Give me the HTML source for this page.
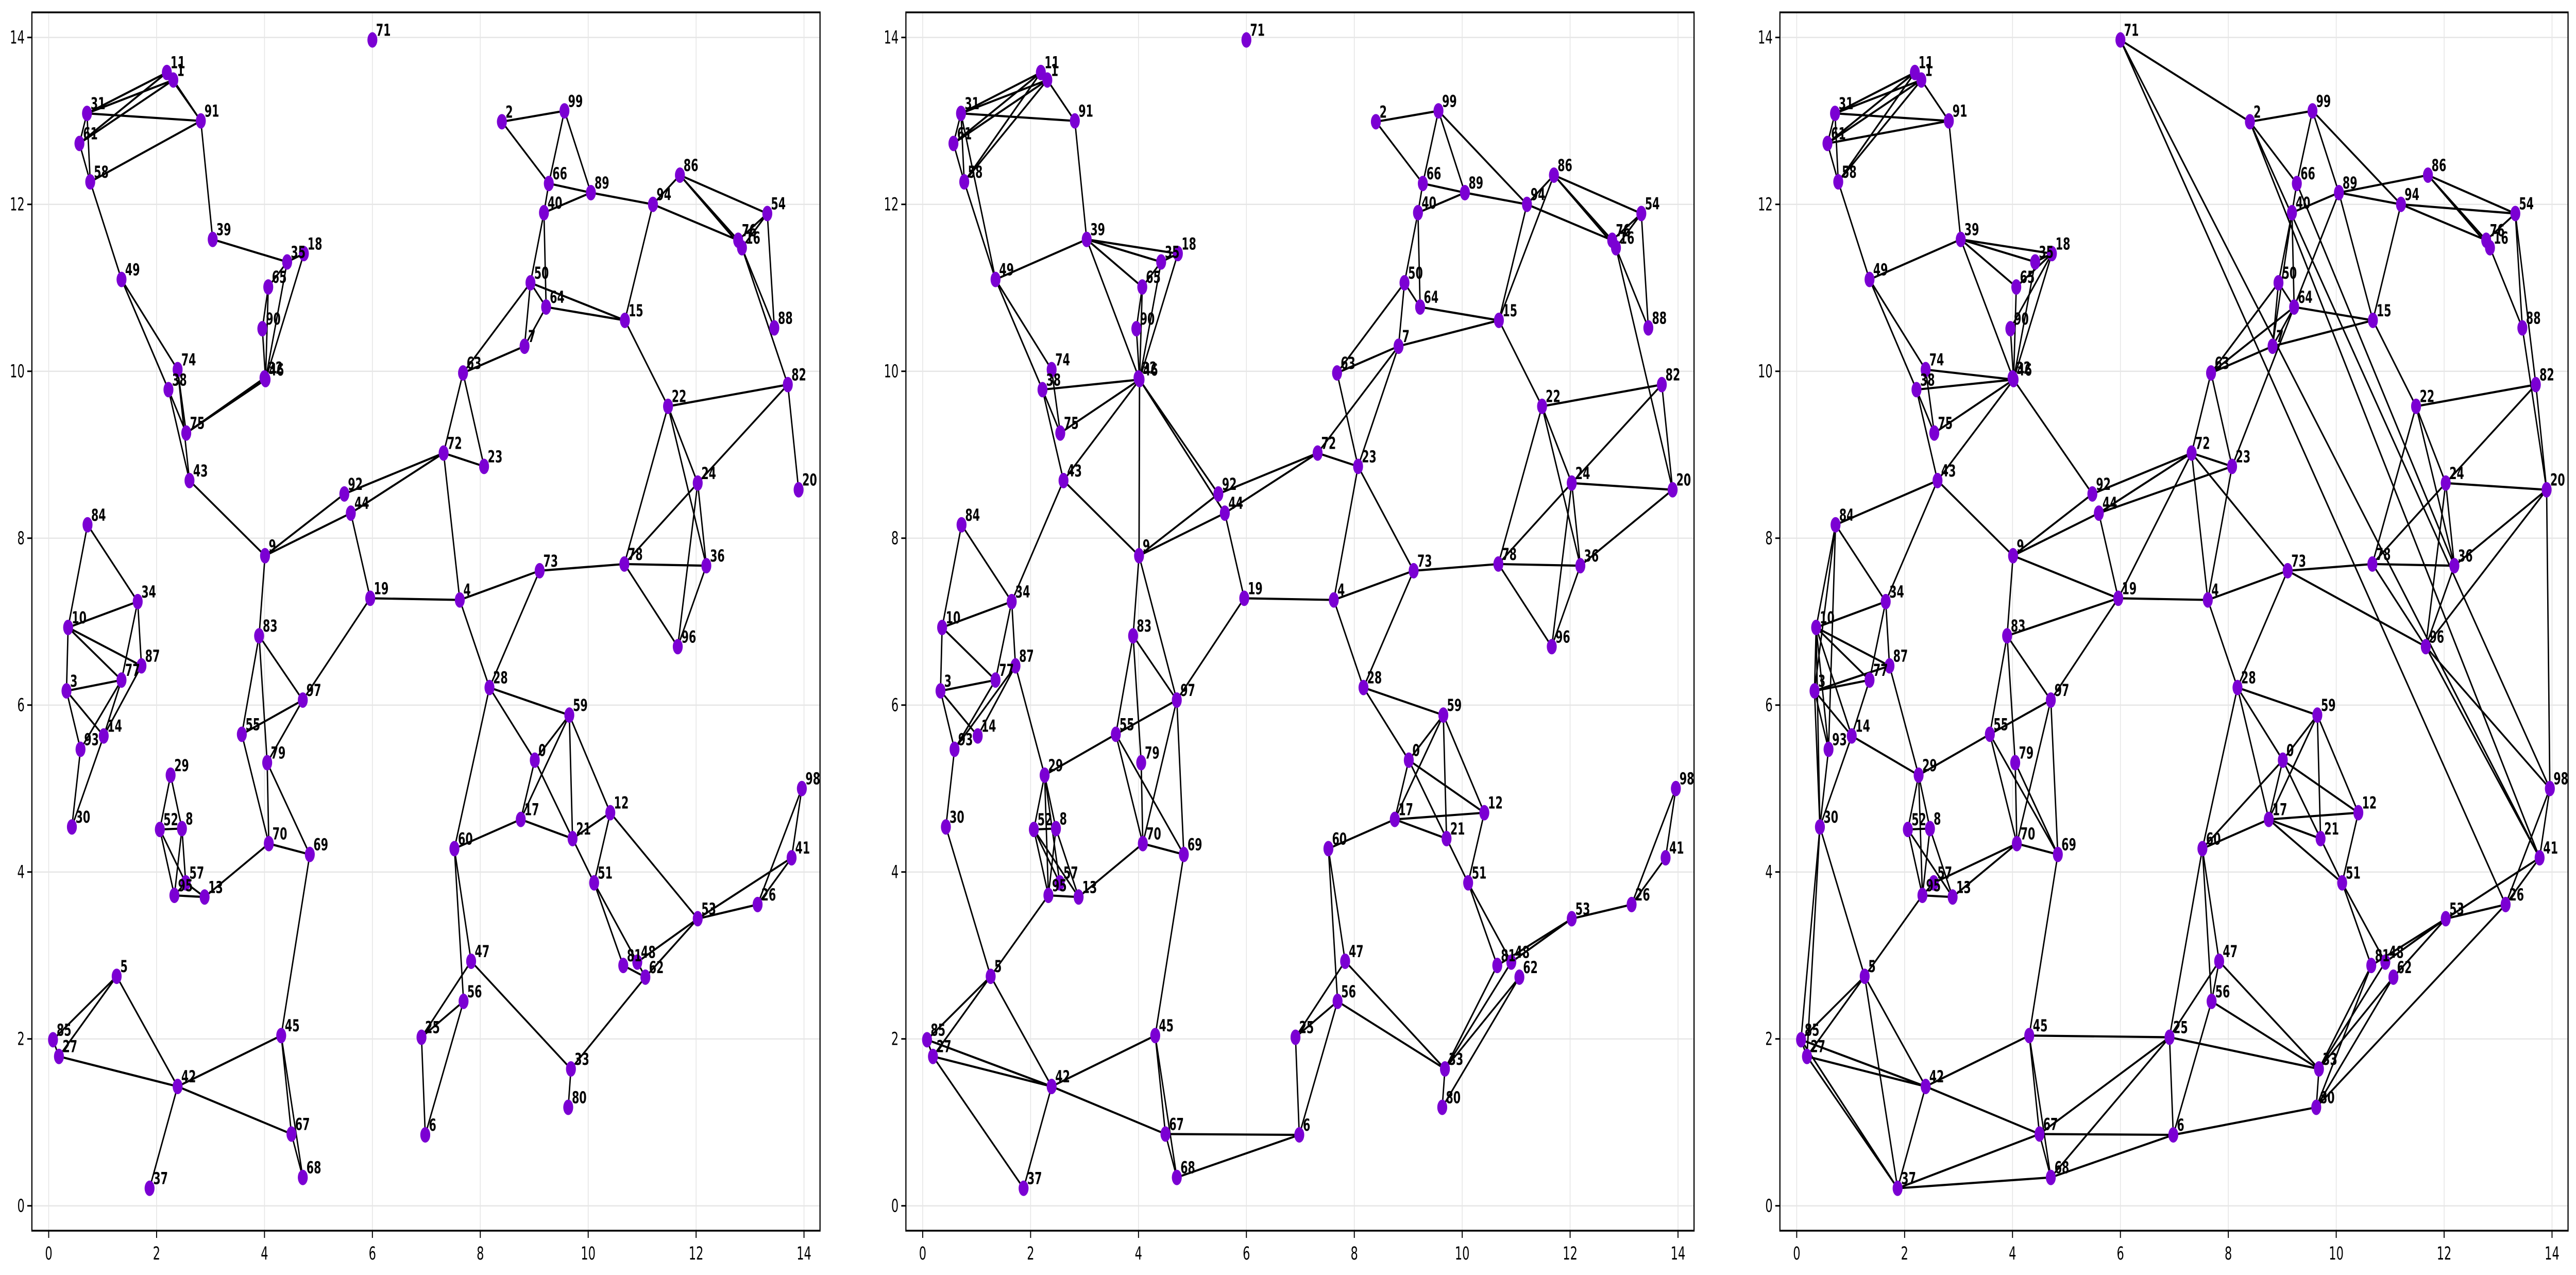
<!DOCTYPE html>
<html><head><meta charset="utf-8"><title>Graph panels</title>
<style>html,body{margin:0;padding:0;background:#fff;overflow:hidden;width:100%;height:100%}svg{display:block;width:100vw;height:100vh}</style></head>
<body>
<svg id="chart" xmlns="http://www.w3.org/2000/svg" viewBox="0 0 7778 2475" preserveAspectRatio="none"></svg>
<script>
const nodeIds=[71,11,1,31,91,61,58,39,35,18,65,90,32,46,49,74,38,75,43,84,34,10,87,77,3,14,93,30,29,52,8,57,95,13,83,97,55,79,70,69,9,92,44,19,72,23,63,4,73,50,64,7,15,40,66,2,99,89,94,86,54,76,16,88,82,20,22,24,78,36,96,28,59,0,17,21,12,60,51,53,26,41,98,81,48,62,47,56,25,6,33,80,5,85,27,42,37,45,67,68];
const nodeX=[6.00,2.19,2.31,0.71,2.82,0.57,0.77,3.04,4.42,4.73,4.07,3.96,4.00,4.02,1.35,2.39,2.22,2.55,2.61,0.72,1.65,0.36,1.72,1.35,0.33,1.02,0.59,0.43,2.26,2.06,2.47,2.54,2.33,2.89,3.90,4.71,3.58,4.05,4.08,4.84,4.01,5.48,5.60,5.96,7.32,8.07,7.68,7.62,9.10,8.93,9.22,8.82,10.68,9.18,9.27,8.40,9.56,10.05,11.20,11.70,13.32,12.78,12.85,13.45,13.70,13.90,11.48,12.03,10.67,12.19,11.66,8.17,9.65,9.01,8.75,9.71,10.41,7.52,10.11,12.03,13.14,13.77,13.96,10.65,10.91,11.06,7.83,7.69,6.91,6.98,9.68,9.63,1.26,0.08,0.19,2.39,1.87,4.31,4.50,4.71];
const nodeY=[13.97,13.58,13.49,13.09,13.00,12.73,12.27,11.58,11.31,11.41,11.01,10.51,9.92,9.90,11.10,10.02,9.78,9.26,8.69,8.16,7.24,6.93,6.47,6.30,6.17,5.63,5.47,4.54,5.16,4.51,4.52,3.87,3.72,3.70,6.83,6.06,5.65,5.31,4.34,4.21,7.79,8.53,8.30,7.28,9.02,8.86,9.98,7.26,7.61,11.06,10.77,10.30,10.61,11.90,12.25,12.99,13.12,12.14,12.00,12.35,11.89,11.57,11.48,10.52,9.84,8.58,9.58,8.66,7.69,7.67,6.70,6.21,5.88,5.34,4.63,4.40,4.71,4.28,3.87,3.44,3.61,4.17,5.00,2.88,2.92,2.74,2.93,2.45,2.02,0.85,1.64,1.18,2.75,1.99,1.79,1.43,0.21,2.04,0.86,0.34];
const edgesA="11-1 11-31 1-31 11-61 1-61 31-91 1-91 11-91 31-61 61-58 31-58 58-91 58-49 91-39 39-35 35-18 35-65 18-46 35-46 65-90 90-46 65-46 49-74 49-38 74-75 38-75 38-43 74-43 75-46 75-32 43-9 9-83 9-92 9-44 92-72 44-72 44-19 19-97 72-23 72-63 63-23 72-4 63-50 63-7 7-64 50-64 50-7 50-40 64-40 40-66 50-15 64-15 66-2 66-99 2-99 99-89 66-89 40-89 89-94 94-86 94-15 94-76 86-54 86-16 86-76 54-76 54-16 54-88 16-88 16-82 82-22 82-24 82-20 15-22 22-78 22-24 22-36 24-36 24-78 24-96 78-36 78-96 96-36 78-73 73-4 73-28 4-19 4-28 28-59 28-0 28-60 0-21 0-17 0-59 59-17 59-21 59-12 17-21 17-60 21-12 21-51 12-51 12-53 51-81 51-48 81-62 48-62 53-62 53-48 53-26 53-41 26-98 26-41 41-98 60-47 60-56 47-25 47-33 56-25 56-6 25-6 33-80 33-62 84-10 84-34 34-10 34-77 34-87 10-3 10-77 10-87 3-77 3-93 3-14 77-14 77-93 87-14 14-30 93-30 29-52 29-8 52-8 52-95 52-57 8-57 8-95 95-57 95-13 57-13 13-70 83-97 83-55 83-79 55-97 55-70 97-79 79-70 79-69 70-69 69-45 45-42 45-67 45-68 67-68 42-5 42-27 42-67 42-37 5-85 5-27 85-27";
const edgesB="11-1 11-31 1-31 11-61 1-61 11-58 1-58 31-61 31-58 61-58 31-91 1-91 58-49 31-49 91-39 49-39 49-74 49-38 74-75 38-75 38-43 38-46 75-46 43-46 43-9 43-34 39-46 39-65 39-18 39-35 35-18 35-65 18-46 65-90 65-46 90-46 35-46 46-9 46-92 46-44 9-92 9-44 9-83 9-97 92-72 44-72 44-19 19-97 72-23 72-7 63-23 63-7 7-23 63-50 50-64 50-7 50-40 64-40 7-15 64-15 40-66 40-89 66-89 66-2 66-99 2-99 99-89 99-94 89-94 94-86 94-15 86-15 94-76 86-76 86-16 86-54 54-76 54-16 54-88 16-88 16-20 82-20 82-22 82-24 15-22 22-78 22-36 22-24 24-20 24-36 24-78 24-96 78-36 78-96 96-36 36-20 78-73 73-4 73-23 73-28 4-23 4-19 4-28 28-59 28-0 0-59 0-17 0-21 0-12 59-17 59-21 59-12 17-21 17-12 17-60 21-51 12-51 51-81 51-48 81-33 48-33 62-33 62-80 81-53 48-53 53-26 26-98 26-41 41-98 60-47 60-56 47-25 47-33 56-25 56-33 56-6 25-6 6-67 6-68 33-80 84-10 84-34 34-10 34-77 34-87 10-3 10-77 3-77 3-93 3-14 77-93 87-93 87-14 93-30 30-5 87-29 29-55 29-52 29-8 29-95 29-57 52-8 52-95 52-13 52-57 8-95 8-13 95-13 95-5 13-70 83-55 83-79 83-97 55-97 55-70 55-69 79-70 97-70 97-69 70-69 69-45 45-42 45-67 45-68 67-68 42-5 42-27 42-85 42-67 42-37 27-37 5-85 5-27 85-27";
const edgesC="11-1 11-31 1-31 11-61 1-61 11-58 1-58 31-61 31-58 61-58 31-91 61-91 1-91 58-49 91-39 49-39 49-74 49-38 74-46 38-46 74-75 38-75 38-43 75-46 43-46 43-9 43-84 43-34 39-46 39-65 39-35 39-18 35-18 65-18 90-18 65-46 90-46 35-46 18-46 46-92 9-92 9-44 9-19 9-83 92-72 44-72 44-23 44-19 19-72 19-97 19-83 19-4 72-23 72-73 72-4 63-23 63-72 63-7 63-50 63-64 7-15 7-40 7-64 50-40 50-64 50-7 64-40 64-15 64-89 23-64 23-4 71-2 71-26 71-41 2-41 2-98 66-36 66-2 66-99 2-99 66-40 40-89 99-89 99-94 89-94 89-86 89-15 94-54 94-15 94-76 86-76 86-16 86-54 54-76 54-88 54-82 16-88 88-20 82-20 82-22 82-24 15-22 22-78 22-36 22-24 24-20 24-36 24-78 24-96 78-36 78-96 36-20 96-20 96-73 96-98 96-41 96-36 73-78 73-4 73-28 4-28 28-59 28-0 28-17 28-60 0-59 0-17 0-12 0-21 0-60 59-17 59-21 59-12 17-21 17-12 17-51 17-60 21-51 12-51 51-81 51-48 81-33 81-80 48-33 62-33 62-80 81-53 48-53 53-62 53-26 53-41 26-41 26-80 26-98 41-98 98-20 60-25 60-47 60-56 47-56 47-25 47-33 56-6 56-33 25-33 25-6 25-45 25-67 25-68 6-67 6-68 6-80 33-80 37-68 37-67 37-27 37-85 37-5 37-42 42-27 42-85 42-5 42-45 42-67 45-67 45-68 67-68 5-85 5-27 5-95 5-30 85-30 27-30 85-27 30-10 30-3 30-93 30-14 84-10 84-3 84-93 84-34 10-34 10-77 10-87 10-3 10-93 10-14 3-77 3-87 3-93 3-14 34-77 34-87 77-14 14-29 87-29 29-55 29-52 29-8 29-95 52-8 52-95 52-13 8-95 8-13 95-13 95-57 13-70 57-70 83-55 83-79 83-97 55-97 55-70 55-69 79-70 79-69 97-70 97-69 70-69 69-45";
const panelEdges=[edgesA,edgesB,edgesC];
const tickVals=[0,2,4,6,8,10,12,14];
const tickLabels=["0","2","4","6","8","10","12","14"];

const NS="http://www.w3.org/2000/svg";
const svg=document.getElementById('chart');
const UX=162.9, UY=162.0, Y0=2340.7, PSTEP=2639;
function mk(tag,attrs,parent){const e=document.createElementNS(NS,tag);for(const k in attrs)e.setAttribute(k,attrs[k]);parent.appendChild(e);return e;}
const idx={};nodeIds.forEach((id,i)=>idx[id]=i);

for(let p=0;p<3;p++){
  const X0=147+PSTEP*p;
  const sx=v=>X0+UX*v, sy=v=>Y0-UY*v;
  const g=mk('g',{},svg);
  
  
  const L=X0-50.7,R=X0+2329,T=24,B=2389;
  const grid=mk('g',{stroke:'#e6e6e6','stroke-width':'2.5'},g);
  
  
  tickVals.forEach(v=>{
    mk('line',{x1:sx(v),x2:sx(v),y1:T,y2:B},grid);
    mk('line',{x1:L,x2:R,y1:sy(v),y2:sy(v)},grid);
  });
  const eg=mk('g',{stroke:'#000','stroke-width':'4.2','stroke-linecap':'round'},g);
  
  
  panelEdges[p].split(' ').forEach(s=>{
    const [a,b]=s.split('-').map(Number);
    if(idx[a]===undefined||idx[b]===undefined)return;
    const l=mk('line',{x1:sx(nodeX[idx[a]]),y1:sy(nodeY[idx[a]]),x2:sx(nodeX[idx[b]]),y2:sy(nodeY[idx[b]])},eg);
    
    
  });
  const ng=mk('g',{fill:'#7b00d3'},g);
  
  
  nodeIds.forEach((id,i)=>{
    const c=mk('circle',{cx:sx(nodeX[i]),cy:sy(nodeY[i]),r:15},ng);
    
    
  });
  const lg=mk('g',{fill:'#000','font-family':'DejaVu Sans, Liberation Sans, sans-serif','font-size':'32','font-weight':'bold'},g);
  
  
  nodeIds.forEach((id,i)=>{
    const t=mk('text',{x:sx(nodeX[i])+11,y:sy(nodeY[i])-8},lg);
    t.textContent=String(id);
    
    
  });
  const fr=mk('rect',{x:L,y:T,width:R-L,height:B-T,fill:'none',stroke:'#000','stroke-width':'3.5'},g);
  
  
  const tg=mk('g',{fill:'#000','font-family':'DejaVu Sans, Liberation Sans, sans-serif','font-size':'35'},g);
  
  
  tickVals.forEach((v,i)=>{
    mk('line',{x1:sx(v),x2:sx(v),y1:B,y2:B+14,stroke:'#000','stroke-width':'3'},tg);
    const tx=mk('text',{x:sx(v),y:B+56,'text-anchor':'middle'},tg);
    tx.textContent=tickLabels[i];
    
    
    mk('line',{x1:L-14,x2:L,y1:sy(v),y2:sy(v),stroke:'#000','stroke-width':'3'},tg);
    const ty=mk('text',{x:L-22,y:sy(v)+12,'text-anchor':'end'},tg);
    ty.textContent=tickLabels[i];
    
    
  });
}
</script>
</body></html>
